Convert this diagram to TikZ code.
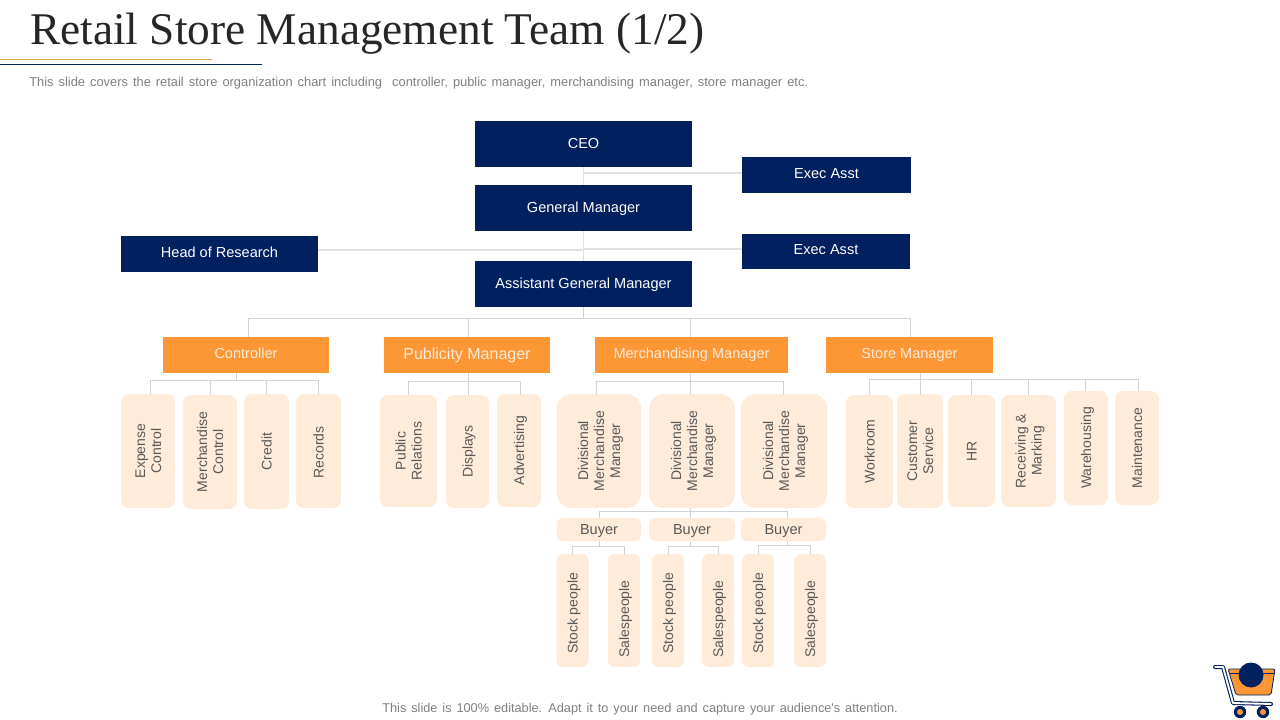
\documentclass[tikz,border=0pt]{standalone}
\usepackage{fontspec}
\setmainfont{Liberation Sans}
\newfontfamily\titlefont{Liberation Serif}
\newfontfamily\notefont[WordSpace=1.4]{Liberation Sans}
\definecolor{navyfill}{HTML}{002060}
\definecolor{orangefill}{HTML}{FD9735}
\definecolor{peachfill}{HTML}{FEEBD9}
\definecolor{wirecol}{HTML}{D0D4DA}
\definecolor{leaftext}{HTML}{595959}
\definecolor{notetext}{HTML}{7F7F7F}
\definecolor{goldline}{HTML}{DDAA33}
\newcommand{\vlabel}[2][0pt]{\hspace*{3pt}\rotatebox{90}{\begin{tabular}{@{}c@{}}#2\end{tabular}\hspace*{#1}}}
\tikzset{x=0.75pt,y=-0.75pt,
    wire/.style={draw=wirecol,line width=0.75pt},
    topwire/.style={draw=wirecol!70,line width=0.9pt},
    headbox/.style={fill=navyfill,text=white,inner sep=0pt,text height=8.5pt,text depth=2pt,font=\fontsize{10.9}{13}\selectfont},
    lowtext/.style={text height=7.5pt,text depth=2.5pt},
    managerbox/.style={fill=orangefill,text=peachfill,inner sep=0pt,minimum height=27pt,lowtext,font=\fontsize{10.9}{13}\selectfont},
    leafbox/.style={fill=peachfill,text=leaftext,inner sep=0pt,rounded corners=6pt,font=\fontsize{10.5}{12}\selectfont},
    notetxt/.style={text=notetext,inner sep=0pt,font=\notefont\fontsize{9.55}{11}\selectfont},
    }
\begin{document}
\begin{tikzpicture}
	\useasboundingbox (0,0) rectangle (1280,720);
	% heading
	\node[inner sep=0pt,anchor=base west,text=black!85,font=\titlefont\fontsize{34}{38}\selectfont] (title) at (30,45) {Retail Store Management Team (1/2)};
	\draw[goldline,line width=1.2pt] (0,59.5) -- (212,59.5);
	\draw[navyfill,line width=0.75pt] (0,64.5) -- (262,64.5);
	\node[notetxt,anchor=west,font=\notefont\fontsize{9.66}{11}\selectfont] (intro) at (29,83.5) {This slide covers the retail store organization chart including\ \ controller, public manager, merchandising manager, store manager etc.};
	\node[notetxt] (outro) at (640,709) {This slide is 100\% editable. Adapt it to your need and capture your audience's attention.};
	% top of the chart
	\node[headbox,minimum width=162.75pt,minimum height=34.5pt] (ceo) at (583.5,144) {CEO};
	\node[headbox,minimum width=162.75pt,minimum height=34.5pt] (gm) at (583.5,208) {General Manager};
	\node[headbox,minimum width=162.75pt,minimum height=34.5pt] (agm) at (583.5,284) {Assistant General Manager};
	\node[headbox,lowtext,minimum width=126.75pt,minimum height=27pt] (asstA) at (826.5,175) {Exec Asst};
	\node[headbox,lowtext,minimum width=126pt,minimum height=26.25pt] (asstB) at (826,251.5) {Exec Asst};
	\node[headbox,lowtext,minimum width=147.75pt,minimum height=27pt] (research) at (219.5,254) {Head of Research};
	% managers
	\node[managerbox,minimum width=124.5pt] (controller) at (246,355) {Controller};
	\node[managerbox,minimum width=124.5pt,text height=9pt,text depth=2pt,font=\fontsize{12}{14}\selectfont] (publicity) at (467,355) {Publicity Manager};
	\node[managerbox,minimum width=144.75pt] (merch) at (691.5,355) {Merchandising Manager};
	\node[managerbox,minimum width=125.25pt] (store) at (909.5,355) {Store Manager};
	% controller row
	\node[leafbox,minimum width=40.5pt,minimum height=85.5pt] (expense) at (148,451) {\vlabel{Expense\\Control}};
	\node[leafbox,minimum width=40.5pt,minimum height=85.5pt] (mcontrol) at (210,452) {\vlabel{Merchandise\\Control}};
	\node[leafbox,minimum width=33.75pt,minimum height=86.25pt] (credit) at (266.5,451.5) {\vlabel{Credit}};
	\node[leafbox,minimum width=33.75pt,minimum height=85.5pt] (records) at (318.5,451) {\vlabel[2pt]{Records}};
	% publicity row
	\node[leafbox,minimum width=42.75pt,minimum height=84pt] (relations) at (408.5,451) {\vlabel{Public\\Relations}};
	\node[leafbox,minimum width=32.25pt,minimum height=84.75pt] (displays) at (467.5,451.5) {\vlabel{Displays}};
	\node[leafbox,minimum width=33pt,minimum height=84.75pt] (advert) at (519,450.5) {\vlabel{Advertising}};
	% merchandising row
	\foreach \dmm/\xpos/\boxw in {dmmA/599/63,dmmB/692/64.5,dmmC/784/64.5}
		\node[leafbox,rounded corners=11pt,minimum width=\boxw pt,minimum height=85.5pt] (\dmm) at (\xpos,451) {\vlabel{Divisional\\Merchandise\\Manager}};
	\foreach \buy/\xpos/\boxw in {buyerA/599/63,buyerB/692/64.5,buyerC/783.5/63.75}
		\node[leafbox,rounded corners=4pt,minimum width=\boxw pt,minimum height=17.25pt,text height=9pt,text depth=1pt,font=\fontsize{10.9}{13}\selectfont] (\buy) at (\xpos,529.5) {Buyer};
	\foreach \sale/\xpos/\txt/\drop in {stockA/572.5/Stock people/4.5,saleA/624/Salespeople/12.8,stockB/668/Stock people/4.5,saleB/718/Salespeople/12.8,stockC/758/Stock people/4.5,saleC/810/Salespeople/12.8}
		\node[leafbox,rounded corners=5pt,minimum width=24pt,minimum height=84.75pt] (\sale) at (\xpos,610.5) {\vlabel[\drop pt]{\txt}};
	% store row
	\node[leafbox,minimum width=35.25pt,minimum height=84.75pt] (workroom) at (869.5,451.5) {\vlabel{Workroom}};
	\node[leafbox,minimum width=34.5pt,minimum height=85.5pt] (service) at (920,451) {\vlabel{Customer\\Service}};
	\node[leafbox,minimum width=35.25pt,minimum height=84pt] (hr) at (971.5,451) {\vlabel{HR}};
	\node[leafbox,minimum width=41.25pt,minimum height=84pt] (receiving) at (1028.5,451) {\vlabel{Receiving \&\\Marking}};
	\node[leafbox,minimum width=33pt,minimum height=85.5pt] (warehouse) at (1086,448) {\vlabel{Warehousing}};
	\node[leafbox,minimum width=33pt,minimum height=85.5pt] (maint) at (1137,448) {\vlabel{Maintenance}};
	% wires of the top
	\draw[topwire] (ceo.south) -- (gm.north);
	\draw[topwire] (gm.south) -- (agm.north);
	\draw[topwire] (583.5,173) -- (asstA.west |- 0,173);
	\draw[topwire] (research.east |- 0,250) -- (583.5,250);
	\draw[topwire] (583.5,249) -- (asstB.west |- 0,249);
	% wires to the managers
	\coordinate (agmbus) at (583.5,318);
	\draw[wire] (agm.south) -- (agmbus);
	\foreach \child/\dx in {controller/2,publicity/1,merch/-1.5,store/1}
		\draw[wire] (agmbus) -| ([shift={(\dx,0)}]\child.north);
	% wires to the rows
	\coordinate (ctrlbus) at (236,380);
	\draw[wire] (ctrlbus |- controller.south) -- (ctrlbus);
	\foreach \child/\dx in {expense/2,mcontrol/0.5,credit/0,records/0}
		\draw[wire] (ctrlbus) -| ([shift={(\dx,0)}]\child.north);
	\coordinate (pubbus) at (468,381);
	\draw[wire] (pubbus |- publicity.south) -- (pubbus);
	\foreach \child/\dx in {relations/-0.5,displays/0.5,advert/1}
		\draw[wire] (pubbus) -| ([shift={(\dx,0)}]\child.north);
	\coordinate (merchbus) at (690,381);
	\draw[wire] (merchbus |- merch.south) -- (merchbus);
	\foreach \child/\dx in {dmmA/-3,dmmB/-2,dmmC/-0.5}
		\draw[wire] (merchbus) -| ([shift={(\dx,0)}]\child.north);
	\coordinate (storebus) at (920,379.5);
	\draw[wire] (storebus |- store.south) -- (storebus);
	\foreach \child/\dx in {workroom/-0.5,service/0,hr/-0.5,receiving/0,warehouse/-0.5,maint/1.5}
		\draw[wire] (storebus) -| ([shift={(\dx,0)}]\child.north);
	% wires to the buyers and their staff
	\coordinate (buyerbus) at (690,511.5);
	\draw[wire] (buyerbus |- dmmB.south) -- (buyerbus);
	\foreach \child/\dx in {buyerA/0.5,buyerB/-2,buyerC/4}
		\draw[wire] (buyerbus) -| ([shift={(\dx,0)}]\child.north);
	\foreach \buy/\lkid/\rkid/\xpos/\ypos in {buyerA/stockA/saleA/599/546.5,buyerB/stockB/saleB/690/546.5,buyerC/stockC/saleC/787/545}{
		\coordinate (\buy bus) at (\xpos,\ypos);
		\draw[wire] (\buy bus |- \buy.south) -- (\buy bus);
		\draw[wire] (\buy bus) -| (\lkid.north);
		\draw[wire] (\buy bus) -| (\rkid.north);
	}
	% cart
	\fill[navyfill] (1240,712) circle (6.2);
	\fill[navyfill] (1263,712) circle (6.2);
	\fill[orangefill] (1240,712) circle (3);
	\fill[orangefill] (1263,712) circle (3);
	\draw[navyfill,fill=orangefill,line width=0.6pt,rounded corners=1.5pt] (1228,669) -- (1275,669) -- (1271,695) -- (1236,695) -- cycle;
	\draw[navyfill,line width=0.6pt] (1229,673.5) -- (1274,673.5);
	\draw[navyfill,line width=3pt,line cap=round,line join=round] (1215,667) -- (1223,667) -- (1233,703) -- (1271,704);
	\draw[white,line width=1.4pt,line cap=round,line join=round] (1215,667) -- (1223,667) -- (1233,703) -- (1271,704);
	\fill[navyfill] (1251,675) circle (12.5);
\end{tikzpicture}
\end{document}
